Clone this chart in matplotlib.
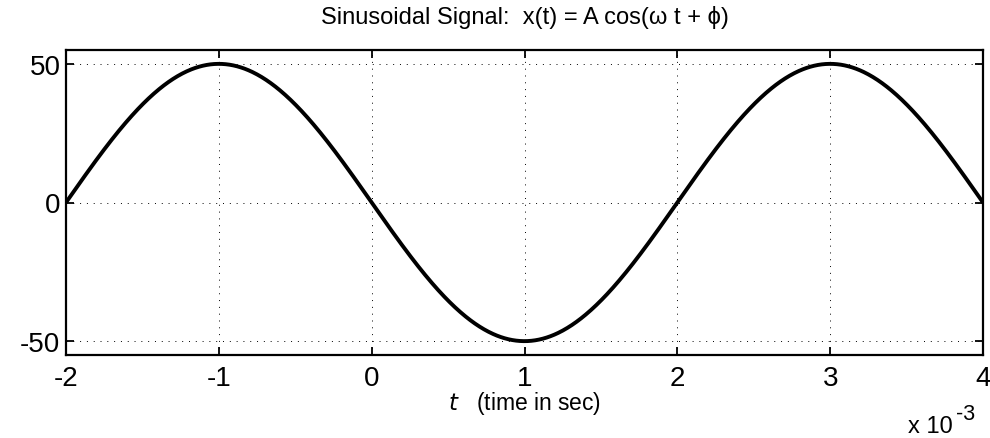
import numpy as np
import matplotlib
matplotlib.use("Agg")
import matplotlib.pyplot as plt
from matplotlib.ticker import FuncFormatter

plt.rcParams['font.family'] = ['Liberation Sans', 'DejaVu Sans']

#%% Signal parameters
amplitude = 50.0          # A
period = 4e-3             # seconds, peak to peak spacing
phase = np.pi / 2         # phi
t_start, t_end = -2e-3, 4e-3

x_ticks = [-2e-3, -1e-3, 0, 1e-3, 2e-3, 3e-3, 4e-3]
y_ticks = [-50, 0, 50]

omega = 2 * np.pi / period
t = np.linspace(t_start, t_end, 1201)
x = amplitude * np.cos(omega * t + phase)

#%% Plot
W, H = 990, 439
fig = plt.figure(figsize=(W / 100, H / 100), dpi=100)
ax = fig.add_axes([66/W, 1 - 356/H, (983 - 66)/W, (356 - 51)/H])

ax.plot(t, x, color="black", linewidth=2.8, solid_capstyle="butt")

ax.set_xlim(t_start, t_end)
ax.set_ylim(-55, 55)
ax.set_xticks(x_ticks)
ax.set_yticks(y_ticks)
ax.xaxis.set_major_formatter(FuncFormatter(lambda v, p: "%g" % round(v * 1e3, 6)))
ax.yaxis.set_major_formatter(FuncFormatter(lambda v, p: "%g" % v))

ax.grid(True, color="black", linestyle=(0, (1, 6)), linewidth=0.7)
ax.tick_params(direction="in", length=6, width=1.3, top=True, right=True,
               labelsize=20, colors="black")
ax.tick_params(axis="x", pad=7)
ax.tick_params(axis="y", pad=4)
for s in ax.spines.values():
    s.set_linewidth(1.6)

ax.set_title("Sinusoidal Signal:  x(t) = A cos(\u03c9 t + \u03d5)", fontsize=17,
             y=(356 - 24) / 305, pad=0, va="baseline")
ax.set_xlabel("$t$   (time in sec)", fontsize=16.5)
ax.xaxis.set_label_coords(0.5, (356 - 410) / 305)
ax.xaxis.label.set_va("baseline")

fig.text(908/W, 1 - 433/H, "x 10", fontsize=17, ha="left", va="baseline")
fig.text(956/W, 1 - 420/H, "-3", fontsize=15.5, ha="left", va="baseline")

fig.savefig("out.png", dpi=100)
